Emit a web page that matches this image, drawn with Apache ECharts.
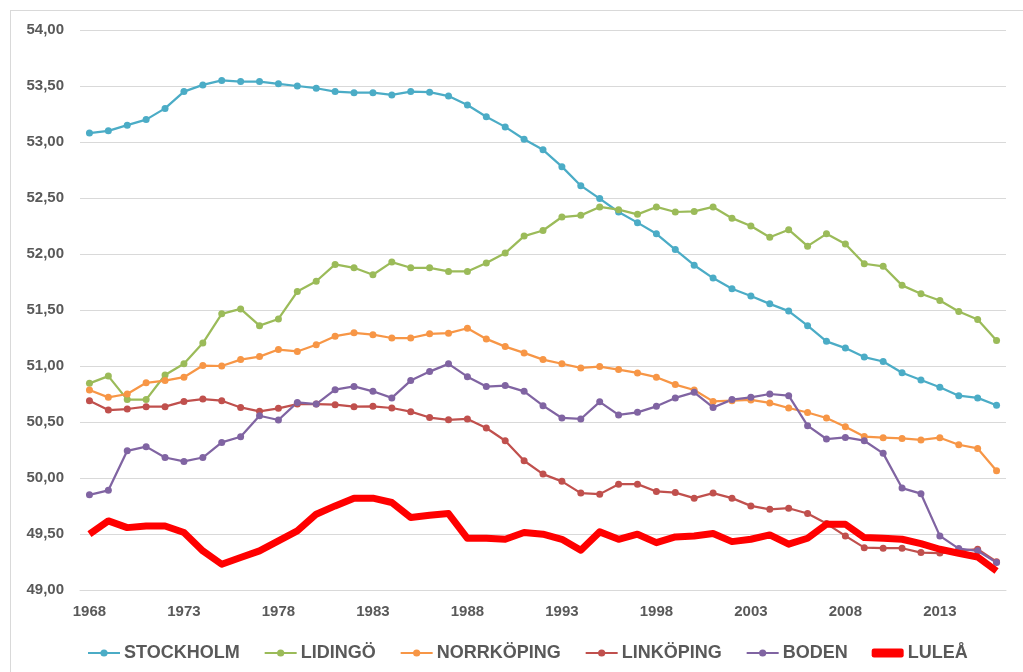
<!DOCTYPE html>
<html>
<head>
<meta charset="utf-8">
<script src="https://cdn.jsdelivr.net/npm/echarts@6/dist/echarts.min.js"></script>
<style>
html,body{margin:0;padding:0;background:#fff;}
#frame{position:absolute;left:10px;top:10px;width:1030px;height:680px;border-top:1px solid #d9d9d9;border-left:1px solid #d9d9d9;}
#c{position:absolute;left:0;top:0;width:1023px;height:672px;}
</style>
</head>
<body>
<div id="frame"></div>
<div id="c"></div>
<script>
const years = [];
for (let y = 1968; y <= 2016; y++) years.push(String(y));

const stockholm = [53.08,53.10,53.15,53.20,53.30,53.45,53.51,53.55,53.54,53.54,53.52,53.50,53.48,53.45,53.44,53.44,53.42,53.45,53.445,53.41,53.33,53.225,53.135,53.025,52.93,52.78,52.61,52.495,52.375,52.28,52.18,52.04,51.90,51.785,51.69,51.625,51.555,51.49,51.36,51.22,51.16,51.08,51.04,50.94,50.875,50.81,50.735,50.715,50.65];
const lidingo = [50.845,50.91,50.70,50.70,50.92,51.02,51.205,51.466,51.51,51.36,51.42,51.665,51.757,51.907,51.877,51.815,51.928,51.877,51.877,51.844,51.844,51.92,52.008,52.16,52.21,52.33,52.345,52.42,52.396,52.354,52.42,52.375,52.38,52.42,52.32,52.25,52.15,52.217,52.07,52.18,52.09,51.913,51.89,51.72,51.645,51.585,51.487,51.415,51.227];
const norrkoping = [50.786,50.72,50.75,50.85,50.87,50.90,51.004,51.0,51.057,51.084,51.147,51.13,51.19,51.266,51.296,51.28,51.25,51.25,51.287,51.293,51.337,51.242,51.173,51.117,51.057,51.02,50.983,50.995,50.968,50.938,50.90,50.834,50.786,50.684,50.69,50.697,50.67,50.625,50.585,50.536,50.458,50.37,50.36,50.353,50.34,50.36,50.297,50.264,50.064];
const linkoping = [50.69,50.607,50.616,50.637,50.637,50.684,50.705,50.69,50.63,50.595,50.622,50.66,50.66,50.655,50.637,50.64,50.625,50.592,50.54,50.52,50.527,50.446,50.333,50.154,50.035,49.97,49.865,49.856,49.945,49.945,49.88,49.87,49.82,49.865,49.82,49.751,49.72,49.73,49.683,49.593,49.483,49.378,49.373,49.373,49.334,49.33,49.35,49.364,49.253];
const boden = [49.85,49.89,50.243,50.28,50.183,50.148,50.183,50.318,50.368,50.556,50.518,50.675,50.66,50.789,50.818,50.774,50.715,50.87,50.95,51.019,50.905,50.816,50.825,50.774,50.646,50.536,50.527,50.68,50.563,50.586,50.64,50.715,50.765,50.63,50.70,50.72,50.75,50.735,50.467,50.348,50.362,50.333,50.22,49.91,49.86,49.483,49.37,49.35,49.245];
const lulea = [49.498,49.617,49.557,49.572,49.572,49.513,49.349,49.23,49.29,49.349,49.438,49.528,49.677,49.751,49.82,49.82,49.781,49.647,49.668,49.683,49.462,49.462,49.453,49.513,49.498,49.453,49.355,49.519,49.453,49.498,49.423,49.474,49.483,49.504,49.432,49.453,49.492,49.409,49.462,49.587,49.587,49.468,49.462,49.453,49.414,49.364,49.328,49.295,49.17];

const names = ['STOCKHOLM','LIDINGÖ','NORRKÖPING','LINKÖPING','BODEN','LULEÅ'];
const colors = ['#4BACC6','#9BBB59','#F79646','#C0504D','#8064A2','#FF0000'];
const values = [stockholm, lidingo, norrkoping, linkoping, boden, lulea];

const series = names.map((n, i) => {
  const isLulea = i === 5;
  return {
    name: n,
    type: 'line',
    data: values[i],
    symbol: isLulea ? 'none' : 'circle',
    symbolSize: 7,
    showSymbol: !isLulea,
    lineStyle: { width: isLulea ? 7 : 2.25, color: colors[i], join: 'round' },
    itemStyle: { color: colors[i] },
    z: isLulea ? 10 : 2,
    animation: false
  };
});

const legendData = names.map((n, i) => i === 5 ? { name: n, icon: 'roundRect' } : { name: n });

const chart = echarts.init(document.getElementById('c'));
chart.setOption({
  animation: false,
  color: colors,
  grid: { left: 80, right: 17, top: 30, bottom: 82, containLabel: false },
  xAxis: {
    type: 'category',
    data: years,
    boundaryGap: true,
    axisLine: { show: true, lineStyle: { color: '#d9d9d9' } },
    axisTick: { show: false },
    axisLabel: { interval: 4, color: '#595959', fontSize: 15, fontWeight: 'bold', fontFamily: 'Liberation Sans, Arial, sans-serif', margin: 14 }
  },
  yAxis: {
    type: 'value',
    min: 49, max: 54, interval: 0.5,
    axisLine: { show: false },
    axisTick: { show: false },
    splitLine: { lineStyle: { color: '#d9d9d9', width: 1 } },
    axisLabel: {
      color: '#595959', fontSize: 15, fontWeight: 'bold', fontFamily: 'Liberation Sans, Arial, sans-serif', margin: 16,
      formatter: v => v.toFixed(2).replace('.', ',')
    }
  },
  legend: {
    data: legendData,
    bottom: 5,
    left: 82,
    itemWidth: 32,
    itemHeight: 9,
    itemGap: 24,
    textStyle: { color: '#595959', fontSize: 18, fontWeight: 'bold', fontFamily: 'Liberation Sans, Arial, sans-serif', padding: [0, 0, 0, -1] }
  },
  series: series
});
</script>
</body>
</html>
